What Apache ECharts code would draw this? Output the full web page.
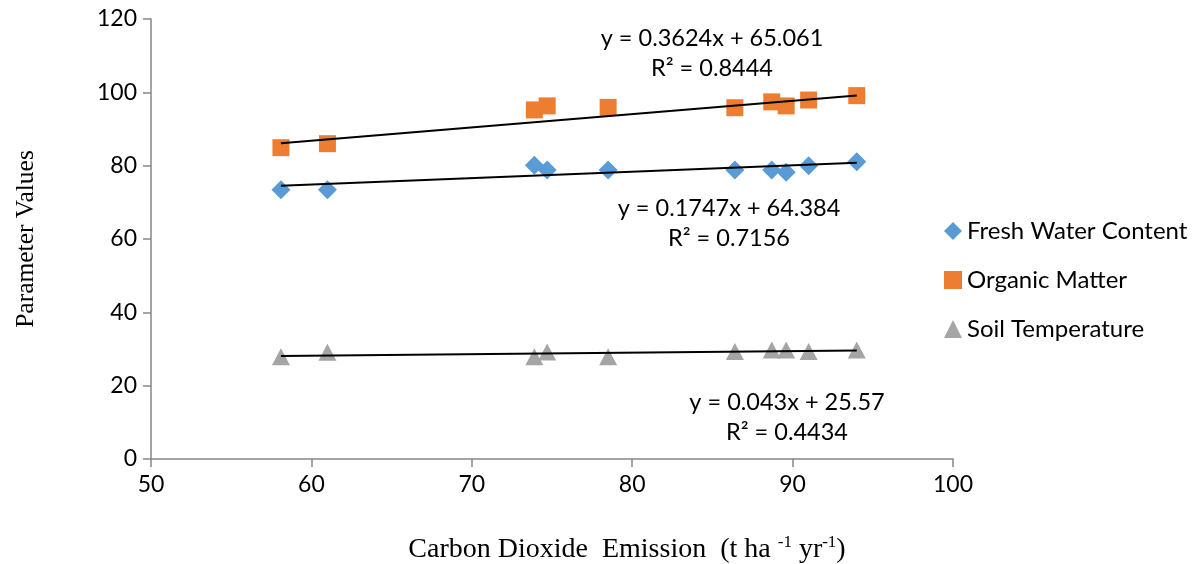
<!DOCTYPE html>
<html>
<head>
<meta charset="utf-8">
<script src="https://cdn.jsdelivr.net/npm/echarts@6/dist/echarts.min.js"></script>
<style>
  html, body { margin: 0; padding: 0; background: #fff; }
  #chart { width: 1201px; height: 564px; }
</style>
</head>
<body>
<div id="chart"></div>
<script>
// values
const co2 = [58.1, 61.0, 73.9, 74.7, 78.5, 86.4, 88.7, 89.6, 91.0, 94.0];
const freshWater = [73.4, 73.4, 80.1, 78.8, 78.8, 78.8, 78.8, 78.2, 80.0, 81.1];
const organicMatter = [84.9, 86.0, 95.2, 96.3, 95.9, 95.8, 97.4, 96.3, 97.9, 99.1];
const soilTemp = [27.9, 29.1, 27.9, 29.2, 27.9, 29.3, 29.7, 29.7, 29.3, 29.7];

const seriesNames = ['Fresh Water Content', 'Organic Matter', 'Soil Temperature'];
// trendline coefficients as printed on the chart
const slopes = [0.1747, 0.3624, 0.043];
const intercepts = [64.384, 65.061, 25.57];
const equations = ['y = 0.1747x + 64.384', 'y = 0.3624x + 65.061', 'y = 0.043x + 25.57'];
const rSquared = ['R² = 0.7156', 'R² = 0.8444', 'R² = 0.4434'];

const xTicks = [50, 100, 10];
const yTicks = [0, 120, 20];

const colors = ['#5B9BD5', '#ED7D31', '#A5A5A5'];
const symbols = ['diamond', 'rect', 'triangle'];
const values = [freshWater, organicMatter, soilTemp];

const chart = echarts.init(document.getElementById('chart'));

const xMin = Math.min(...co2), xMax = Math.max(...co2);

const series = [];
values.forEach((v, i) => {
  series.push({
    name: seriesNames[i],
    type: 'scatter',
    symbol: symbols[i],
    symbolSize: symbols[i] === 'diamond' ? 19 : (symbols[i] === 'rect' ? 17 : [18, 17]),
    itemStyle: { color: colors[i], opacity: 1 },
    data: co2.map((x, k) => [x, v[k]]),
    z: 2
  });
});
values.forEach((v, i) => {
  series.push({
    type: 'line',
    symbol: 'none',
    silent: true,
    lineStyle: { color: '#000', width: 2 },
    data: [[xMin, slopes[i] * xMin + intercepts[i]], [xMax, slopes[i] * xMax + intercepts[i]]],
    z: 3
  });
});

// equation label centres (px)
const eqPos = [[729, 208], [712, 38], [787, 402]];
const graphics = [];
eqPos.forEach((p, i) => {
  graphics.push({
    type: 'text', x: p[0], y: p[1] - 15,
    style: { text: equations[i] + '\n' + rSquared[i],
      font: '23.5px Lato', fill: '#000', align: 'center', verticalAlign: 'top', lineHeight: 30 }
  });
});

const tickFont = { color: '#000', fontSize: 23, fontFamily: 'Lato' };

chart.setOption({
  animation: false,
  backgroundColor: '#fff',
  grid: { left: 151, right: 248, top: 19, bottom: 105, outerBoundsMode: 'none' },
  legend: {
    orient: 'vertical',
    left: 939, top: 214,
    itemGap: 25,
    itemWidth: 18, itemHeight: 18,
    data: seriesNames.map((n, i) => ({ name: n, icon: symbols[i] })),
    textStyle: { fontSize: 24, lineHeight: 24, fontFamily: 'Lato', color: '#000' }
  },
  xAxis: {
    type: 'value',
    min: xTicks[0], max: xTicks[1], interval: xTicks[2],
    splitLine: { show: false },
    axisLine: { lineStyle: { color: '#868686', width: 1.5 } },
    axisTick: { show: true, length: 8, lineStyle: { color: '#868686', width: 1.5 } },
    axisLabel: Object.assign({ margin: 14 }, tickFont),
    name: '{a|Carbon Dioxide  Emission  (t ha }{s|-1}{a| yr}{s|-1}{a|)}',
    nameLocation: 'middle',
    nameGap: 75,
    nameTextStyle: {
      padding: [0, 0, 0, 150],
      rich: {
        a: { fontSize: 28, fontFamily: 'Liberation Serif', color: '#000' },
        s: { fontSize: 17, fontFamily: 'Liberation Serif', color: '#000', padding: [0, 0, 14, 0] }
      }
    }
  },
  yAxis: {
    type: 'value',
    min: yTicks[0], max: yTicks[1], interval: yTicks[2],
    splitLine: { show: false },
    axisLine: { show: true, lineStyle: { color: '#868686', width: 1.5 } },
    axisTick: { show: true, length: 8, lineStyle: { color: '#868686', width: 1.5 } },
    axisLabel: Object.assign({ margin: 14 }, tickFont),
    name: 'Parameter Values',
    nameLocation: 'middle',
    nameGap: 112,
    nameTextStyle: { fontSize: 25.5, fontFamily: 'Liberation Serif', color: '#000' }
  },
  graphic: graphics,
  series: series
});
</script>
</body>
</html>
